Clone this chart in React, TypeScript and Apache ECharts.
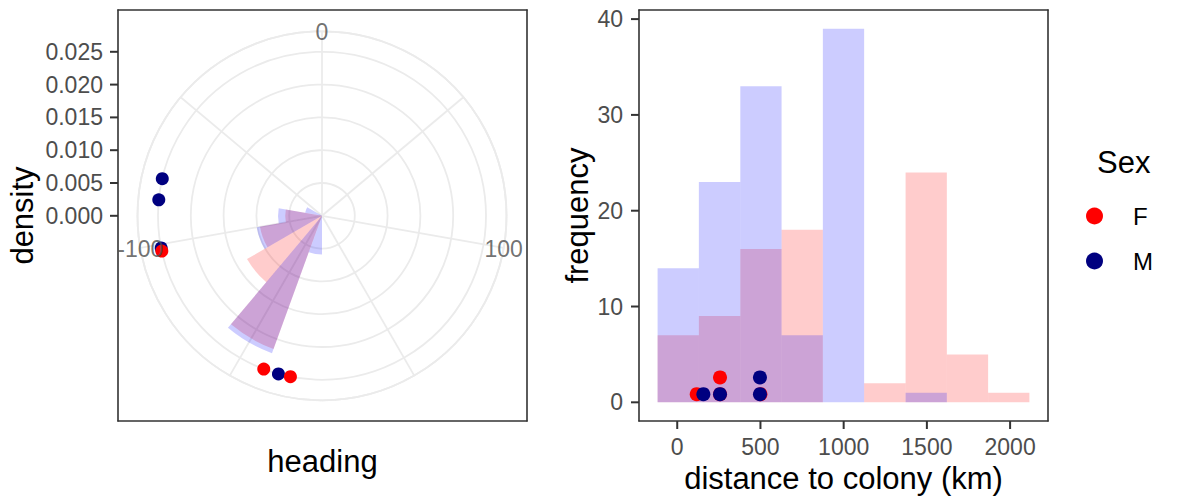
import React, { useEffect, useRef } from "react";
import * as echarts from "echarts";

// ---------- data ----------
// Left panel: heading histogram (density), bins of 20 degrees
const headingBinStarts = [-180, -160, -140, -120, -100, -80];
const headingBinWidth = 20;
const headingDensityF = [0, 0.0216, 0.0132, 0.0096, 0.0056, 0];
const headingDensityM = [0.0059, 0.0223, 0, 0.0101, 0.0067, 0.0026];
const headingPointsF = [-102.4, -159.2, -168.9];
const headingPointsM = [-76.9, -84.4, -101.3, -164.6];
const headingPointDensity = 0.025;
const thetaTickLabels = [-100, 0, 100];
const thetaGridLines = [-150, -100, -50, 0, 50, 100, 150];

// Right panel: distance histogram (counts)
const distanceBinEdges = [-118, 130, 379, 627, 875, 1123, 1372, 1620, 1868, 2116];
const frequencyF = [7, 9, 16, 18, 0, 2, 24, 5, 1];
const frequencyM = [14, 23, 33, 7, 39, 0, 1, 0, 0];
const distancePointsF = [[117, 0.85], [257, 2.6], [257, 0.85], [500, 0.85]];
const distancePointsM = [[157, 0.85], [257, 0.85], [497, 2.6], [497, 0.85]];
const distanceTicks = [0, 500, 1000, 1500, 2000];
const frequencyTicks = [0, 10, 20, 30, 40];
const distanceLimits = [-229.7, 2227.7];
const frequencyLimits = [-1.95, 40.95];

const sexLevels = ["F", "M"];

// ---------- style ----------
const FONT = '"Liberation Sans", Arial, Helvetica, sans-serif';
const GRID = "#EBEBEB";
const BORDER = "#333333";
const TICKTXT = "#4D4D4D";
const RED = "#FF0000";
const NAVY = "#000080";
const FILL_F = "rgba(255,0,0,0.2)";
const FILL_M = "rgba(0,0,255,0.2)";
const TICK_FS = 23;
const TITLE_FS = 31;
const TICK_LEN = 8;

const R_MAX = 0.025 / 0.4 * 0.45; // outer ring of the polar panel

function wedgeData(dens: number[]) {
  const out: number[][] = [];
  headingBinStarts.forEach((s, i) => {
    if (dens[i] > 0) out.push([dens[i], s, s + headingBinWidth]);
  });
  return out;
}

function histData(counts: number[]) {
  const out: number[][] = [];
  counts.forEach((c, i) => {
    if (c > 0) out.push([distanceBinEdges[i], distanceBinEdges[i + 1], c]);
  });
  return out;
}

function wedgeRender(fill: string) {
  return (params: any, api: any) => {
    const cs = params.coordSys;
    const cx = cs.cx, cy = cs.cy;
    const r = api.value(0);
    const p0 = api.coord([r, api.value(1)]);
    const p1 = api.coord([r, api.value(2)]);
    const rpx = Math.hypot(p0[0] - cx, p0[1] - cy);
    let s = Math.atan2(p0[1] - cy, p0[0] - cx);
    let e = Math.atan2(p1[1] - cy, p1[0] - cx);
    if (e < s) e += Math.PI * 2;
    return {
      type: "sector",
      shape: { cx, cy, r0: 0, r: rpx, startAngle: s, endAngle: e, clockwise: true },
      style: { fill },
    };
  };
}

function rectRender(fill: string) {
  return (params: any, api: any) => {
    const p0 = api.coord([api.value(0), api.value(2)]);
    const p1 = api.coord([api.value(1), 0]);
    return {
      type: "rect",
      shape: { x: p0[0], y: p0[1], width: p1[0] - p0[0], height: p1[1] - p0[1] },
      style: { fill },
    };
  };
}

// labels that carry their own tick mark (rich text), so the tick sits against the axis line
const yRich = (gap: number) => ({
  v: { fontSize: TICK_FS, color: TICKTXT, fontFamily: FONT, padding: [0, gap, 0, 0] },
  t: { width: TICK_LEN, height: 2, backgroundColor: BORDER },
});
const xRich = {
  t: { width: 2, height: TICK_LEN, lineHeight: TICK_LEN, backgroundColor: BORDER },
  v: { fontSize: TICK_FS, color: TICKTXT, fontFamily: FONT, padding: [6, 0, 0, 0] },
};

export default function App() {
  const ref = useRef<HTMLDivElement>(null);
  useEffect(() => {
    if (!ref.current) return;
    const chart = echarts.init(ref.current, null, { renderer: "svg" });
    const ls = () => ({ color: BORDER, width: 1.6 });
    const frameAxis = (gridIndex: number, position: string, min: number, max: number) => ({
      gridIndex, type: "value", position, min, max,
      axisLine: { show: true, onZero: false, lineStyle: ls() },
      axisTick: { show: false },
      axisLabel: { show: false },
      splitLine: { show: false },
    });
    const nameStyle = { color: "#000", fontSize: TITLE_FS, fontFamily: FONT };
    const option: any = {
      animation: false,
      textStyle: { fontFamily: FONT },
      polar: { center: [322, 215.8], radius: [0, 184.5] },
      angleAxis: {
        type: "value",
        min: -180,
        max: 180,
        startAngle: 270,
        clockwise: true,
        axisLine: { show: true, lineStyle: { color: GRID, width: 1.8 } },
        axisTick: { show: false },
        axisLabel: { show: false },
        splitLine: { show: false },
      },
      radiusAxis: {
        type: "value",
        min: 0,
        max: R_MAX,
        interval: 0.005,
        axisLine: { show: false },
        axisTick: { show: false },
        axisLabel: { show: false },
        splitLine: { show: true, lineStyle: { color: GRID, width: 1.8 } },
      },
      grid: [
        { left: 118, top: 10, width: 409, height: 411, show: false },
        { left: 118, top: 215.8 - 164, width: 10, height: 164, show: false },
        { left: 639, top: 10, width: 409, height: 411, show: false },
      ],
      xAxis: [
        { ...frameAxis(0, "bottom", 0, 1), name: "heading", nameLocation: "middle", nameGap: 25, nameTextStyle: nameStyle },
        frameAxis(0, "top", 0, 1),
        { gridIndex: 1, type: "value", min: 0, max: 1, show: false, axisLine: { onZero: false } },
        {
          gridIndex: 2, type: "value", min: distanceLimits[0], max: distanceLimits[1], position: "bottom",
          axisLine: { show: true, onZero: false, lineStyle: ls() },
          axisTick: { show: false },
          axisLabel: {
            show: true, margin: 0, customValues: distanceTicks, rich: xRich,
            formatter: (v: number) => (distanceTicks.indexOf(v) >= 0 ? `{t|}\n{v|${v}}` : ""),
          },
          splitLine: { show: false },
          name: "distance to colony (km)", nameLocation: "middle", nameGap: 42, nameTextStyle: nameStyle,
        },
        frameAxis(2, "top", distanceLimits[0], distanceLimits[1]),
      ],
      yAxis: [
        { ...frameAxis(0, "left", 0, 1), name: "density", nameLocation: "middle", nameGap: 80, nameTextStyle: nameStyle },
        frameAxis(0, "right", 0, 1),
        {
          gridIndex: 1, type: "value", min: 0, max: 0.025, interval: 0.005, position: "left",
          axisLine: { show: false, onZero: false },
          axisTick: { show: false },
          axisLabel: {
            show: true, margin: 0, rich: yRich(7),
            formatter: (v: number) => `{v|${v.toFixed(3)}}{t|}`,
          },
          splitLine: { show: false },
        },
        {
          gridIndex: 2, type: "value", min: frequencyLimits[0], max: frequencyLimits[1], position: "left",
          axisLine: { show: true, onZero: false, lineStyle: ls() },
          axisTick: { show: false },
          axisLabel: {
            show: true, margin: 0, customValues: frequencyTicks, rich: yRich(8),
            formatter: (v: number) => (frequencyTicks.indexOf(v) >= 0 ? `{v|${v}}{t|}` : ""),
          },
          splitLine: { show: false },
          name: "frequency", nameLocation: "middle", nameGap: 46, nameTextStyle: nameStyle,
        },
        frameAxis(2, "right", frequencyLimits[0], frequencyLimits[1]),
      ],
      legend: {
        data: sexLevels,
        orient: "vertical",
        left: 1086,
        top: 204,
        padding: 0,
        itemWidth: 67,
        itemHeight: 17,
        itemGap: 21,
        icon: "circle",
        selectedMode: false,
        textStyle: { color: "#000", fontSize: 24, lineHeight: 24, fontFamily: FONT },
      },
      graphic: [
        {
          type: "text",
          x: 1097,
          y: 162.5,
          style: { text: "Sex", fill: "#000", fontSize: TITLE_FS, fontFamily: FONT, align: "left", verticalAlign: "middle" },
        },
      ],
      series: [
        {
          type: "custom", name: "spokes", coordinateSystem: "polar", silent: true, z: 1,
          data: thetaGridLines.map((a) => [R_MAX, a]),
          renderItem: (params: any, api: any) => {
            const a = api.value(1);
            const p0 = api.coord([0, a]);
            const p1 = api.coord([api.value(0), a]);
            return { type: "line", shape: { x1: p0[0], y1: p0[1], x2: p1[0], y2: p1[1] }, style: { stroke: GRID, lineWidth: 1.8 } };
          },
        },
        {
          type: "custom", name: "heading F", coordinateSystem: "polar", silent: true, z: 2,
          data: wedgeData(headingDensityF), renderItem: wedgeRender(FILL_F),
        },
        {
          type: "custom", name: "heading M", coordinateSystem: "polar", silent: true, z: 2,
          data: wedgeData(headingDensityM), renderItem: wedgeRender(FILL_M),
        },
        {
          type: "scatter", name: "theta labels", coordinateSystem: "polar", silent: true, z: 4,
          symbolSize: 1, itemStyle: { color: "rgba(0,0,0,0)" },
          data: thetaTickLabels.map((t) => [R_MAX, t]),
          label: {
            show: true, position: "inside", color: TICKTXT, fontSize: TICK_FS, fontFamily: FONT, offset: [0, 1],
            formatter: (p: any) => String(p.value[1]),
          },
        },
        {
          type: "scatter", name: "M", coordinateSystem: "polar", z: 3, symbolSize: 13,
          itemStyle: { color: NAVY, opacity: 1 },
          data: headingPointsM.map((h) => [headingPointDensity, h]),
        },
        {
          type: "scatter", name: "F", coordinateSystem: "polar", z: 3, symbolSize: 13,
          itemStyle: { color: RED, opacity: 1 },
          data: headingPointsF.map((h) => [headingPointDensity, h]),
        },
        {
          type: "custom", name: "distance F", xAxisIndex: 3, yAxisIndex: 3, silent: true, z: 2,
          encode: { x: [0, 1], y: 2 },
          data: histData(frequencyF), renderItem: rectRender(FILL_F),
        },
        {
          type: "custom", name: "distance M", xAxisIndex: 3, yAxisIndex: 3, silent: true, z: 2,
          encode: { x: [0, 1], y: 2 },
          data: histData(frequencyM), renderItem: rectRender(FILL_M),
        },
        {
          type: "scatter", name: "F", xAxisIndex: 3, yAxisIndex: 3, z: 3, symbolSize: 14,
          itemStyle: { color: RED, opacity: 1 },
          data: distancePointsF,
        },
        {
          type: "scatter", name: "M", xAxisIndex: 3, yAxisIndex: 3, z: 3, symbolSize: 14,
          itemStyle: { color: NAVY, opacity: 1 },
          data: distancePointsM,
        },
      ],
    };
    chart.setOption(option);
    return () => chart.dispose();
  }, []);
  return (
    <div
      ref={ref}
      style={{ position: "fixed", left: 0, top: 0, width: 1189, height: 499, background: "#fff" }}
    />
  );
}
